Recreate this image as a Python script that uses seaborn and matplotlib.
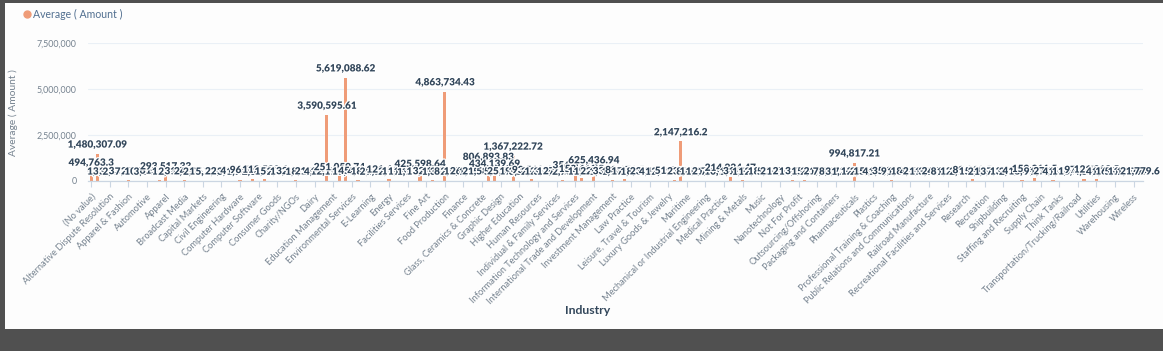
import matplotlib
matplotlib.use("Agg")
import matplotlib.pyplot as plt
import matplotlib.patheffects as pe
from matplotlib.lines import Line2D
from matplotlib.patches import Rectangle
import seaborn as sns
import pandas as pd

industries = [
    "(No value)", "Accounting", "Airlines/Aviation", "Alternative Dispute Resolution", "Alternative Medicine",
    "Animation", "Apparel & Fashion", "Architecture & Planning", "Arts and Crafts", "Automotive",
    "Aviation & Aerospace", "Banking", "Apparel", "Biotechnology", "Building Materials",
    "Broadcast Media", "Business Supplies and Equipment", "Business Services", "Capital Markets", "Chemicals",
    "Civic & Social Organization", "Civil Engineering", "Commercial Real Estate", "Computer & Network Security", "Computer Hardware",
    "Computer Games", "Computer Networking", "Computer Software", "Construction", "Consumer Electronics",
    "Consumer Goods", "Consumer Services", "Cosmetics", "Charity/NGOs", "Cleantech",
    "Defense & Space", "Dairy", "Design", "Education", "Education Management",
    "E-commerce", "Electrical/Electronic Manufacturing", "Environmental Services", "Entertainment", "Events Services",
    "E-Learning", "Executive Office", "Farming", "Energy", "Fashion",
    "Financial Services", "Facilities Services", "Fishery", "Fitness", "Fine Art",
    "Food & Beverages", "Fund-Raising", "Food Production", "Furniture", "Gambling & Casinos",
    "Finance", "Government Administration", "Government Relations", "Glass, Ceramics & Concrete", "Health, Wellness and Fitness",
    "Healthcare", "Graphic Design", "Hospital & Health Care", "Hospitality", "Higher Education",
    "Hardware", "Human Services", "Human Resources", "Import and Export", "Industrial Automation",
    "Individual & Family Services", "Information Services", "Insurance", "Information Technology and Services", "International Affairs",
    "Internet", "International Trade and Development", "Investment Banking", "Judiciary", "Investment Management",
    "Law Enforcement", "Legal Services", "Law Practice", "Legislative Office", "Libraries",
    "Leisure, Travel & Tourism", "Logistics and Supply Chain", "Machinery", "Luxury Goods & Jewelry", "Management Consulting",
    "Manufacturing", "Maritime", "Market Research", "Marketing and Advertising", "Mechanical or Industrial Engineering",
    "Media Production", "Medical Devices", "Medical Practice", "Mental Health Care", "Military",
    "Mining & Metals", "Motion Pictures and Film", "Museums and Institutions", "Music", "Media",
    "Mobile", "Nanotechnology", "Newspapers", "Non-Profit Organization Management", "Not For Profit",
    "Oil & Energy", "Online Media", "Outsourcing/Offshoring", "Package/Freight Delivery", "Paper & Forest Products",
    "Packaging and Containers", "Performing Arts", "Philanthropy", "Pharmaceuticals", "Photography",
    "Political Organization", "Plastics", "Primary/Secondary Education", "Printing", "Professional Training & Coaching",
    "Program Development", "Public Policy", "Public Relations and Communications", "Public Safety", "Publishing",
    "Railroad Manufacture", "Ranching", "Real Estate", "Recreational Facilities and Services", "Religious Institutions",
    "Renewables & Environment", "Research", "Restaurants", "Retail", "Recreation",
    "Security and Investigations", "Semiconductors", "Shipbuilding", "Software", "Sporting Goods",
    "Staffing and Recruiting", "Sports", "Supermarkets", "Supply Chain", "Telecommunications",
    "Textiles", "Think Tanks", "Tobacco", "Translation and Localization", "Transportation/Trucking/Railroad",
    "Travel", "Technology", "Utilities", "Venture Capital & Private Equity", "Veterinary",
    "Warehousing", "Wholesale", "Wine and Spirits", "Wireless", "Writing and Editing",
]

avg_amount = [
    494763.3, 1480307.09, 5712.5, 13763.21, 3351.4, 2171.33, 33512.8, 7610.42, 21763.5, 10426.18,
    3313.77, 61326.4, 293517.33, 12604.9, 2613.15, 31245.6, 4181.2, 24160.88, 2261.45, 14313.9,
    5219.66, 1682.3, 22614.71, 3131.2, 41245.5, 1921.08, 96420.15, 2614.4, 112530.6, 4313.9,
    15220.35, 2715.6, 11234.1, 32140.5, 1125.7, 8152.3, 21415.9, 4161.2, 3590595.61, 12175.44,
    251059.74, 5619088.62, 11212.6, 45123.3, 4181.5, 18123.7, 2190.4, 9113.2, 121644.8, 2199.1,
    19113.6, 11171.2, 1132.8, 425598.64, 13172.3, 32115.4, 1352.6, 4863734.43, 8852.9, 2154.4,
    19323.7, 26411.3, 1352.7, 21580.2, 806893.83, 434139.69, 5211.8, 25412.6, 1367222.72, 19324.2,
    3263.5, 93512.4, 2811.9, 12723.6, 3561.2, 11272.4, 27312.9, 2731.1, 356012.5, 152411.3,
    11272.2, 625436.94, 22313.5, 1131.6, 33181.2, 1713.9, 88171.5, 17137.2, 1723.8, 8612.4,
    23181.7, 4127.2, 1372.5, 2318.4, 51723.1, 2147216.2, 23812.6, 8157.4, 16727.3, 10010.5,
    21113.8, 7011.2, 10112.5, 214924.47, 1011.9, 31110.4, 1210.5, 1152.8, 2811.3, 18172.6,
    5261.2, 22176.9, 12611.5, 27313.1, 11531.6, 31152.4, 15411.8, 2143.2, 21243.7, 7381.5,
    8113.9, 3713.4, 1263.8, 994817.21, 12631.2, 2011.5, 15421.3, 4211.7, 1153.5, 35316.2,
    9712.8, 1135.4, 18451.2, 4541.7, 21779.2, 11535.3, 3112.4, 24378.1, 8813.2, 1372.7,
    12633.9, 2011.6, 89210.5, 15421.8, 2111.9, 1535.2, 3312.4, 7153.6, 13531.2, 2197.3,
    41351.8, 18452.6, 153211.5, 9712.3, 1351.4, 27183.5, 4541.2, 1779.3, 13542.1, 18452.3,
    97135.6, 4541.7, 121812.5, 4541.6, 1779.2, 16271.4, 5421.3, 11779.8, 1779.4, 21779.6,
]

y_ticks = [0, 2500000, 5000000, 7500000]
series_name = "Average ( Amount )"
x_title = "Industry"

BAR = "#ef9c78"
DARK = "#33475b"
GREY = "#75828f"

sns.set_theme(style="white")
plt.rcParams["font.family"] = ["Lato", "DejaVu Sans"]

W, H = 1163, 351
fig = plt.figure(figsize=(W / 100, H / 100), dpi=100, facecolor="#505050")
fig.add_artist(Rectangle((5 / W, 22 / H), 1 - 5 / W, (329 - 3) / H, transform=fig.transFigure,
                         facecolor="#fdfdfd", edgecolor="none", zorder=0))

ax = fig.add_axes([88 / W, (H - 181) / H, (1143 - 88) / W, (181 - 43) / H])
ax.set_facecolor("none")

df = pd.DataFrame({"Industry": industries, "Amount": avg_amount})
sns.barplot(data=df, x="Industry", y="Amount", color=BAR, saturation=1, width=0.5,
            edgecolor="none", linewidth=0, ax=ax, zorder=2)

ax.set_xlim(-0.5, len(industries) - 0.5)
ax.set_ylim(0, 7500000)

def fmt(v):
    s = f"{v:,.2f}".rstrip("0").rstrip(".")
    return s

for i, v in enumerate(avg_amount):
    ax.annotate(fmt(v), (i, v), xytext=(0, 3), textcoords="offset points",
                ha="center", va="bottom", fontsize=7.2, fontweight="heavy", color=DARK,
                path_effects=[pe.withStroke(linewidth=1.8, foreground="white")], zorder=4)

ax.set_yticks(y_ticks)
ax.set_yticklabels([f"{t:,}" for t in y_ticks], fontsize=6.4, color=GREY)
ax.yaxis.grid(True, color="#eaf0f6", lw=0.8)
ax.set_axisbelow(True)

tick_idx = list(range(0, len(industries), 3))
ax.set_xticks(tick_idx)
ax.set_xticklabels([industries[i] for i in tick_idx], rotation=45, ha="right",
                   rotation_mode="anchor", fontsize=6.7, color=GREY)
ax.tick_params(axis="x", length=4, width=0.8, color="#cbd6e2", pad=4, direction="out", bottom=True)
ax.tick_params(axis="y", length=0, pad=8)

for s in ["top", "right", "left"]:
    ax.spines[s].set_visible(False)
ax.spines["bottom"].set_color("#cbd6e2")
ax.spines["bottom"].set_linewidth(0.9)
ax.set_xlabel("")
ax.set_ylabel("")

fig.text(13 / W, 1 - 113 / H, series_name, rotation=90, ha="center", va="center", fontsize=7.4, color=GREY)
fig.text(588 / W, 1 - 310 / H, x_title, ha="center", va="center", fontsize=8.8, fontweight="bold", color=DARK)

fig.add_artist(Line2D([27 / W], [1 - 14 / H], marker="o", markersize=5, color=BAR, linestyle="none",
                      transform=fig.transFigure))
fig.text(33 / W, 1 - 14 / H, series_name, ha="left", va="center", fontsize=7.6, color="#516f90")

fig.savefig("out.png", dpi=100, facecolor=fig.get_facecolor())
